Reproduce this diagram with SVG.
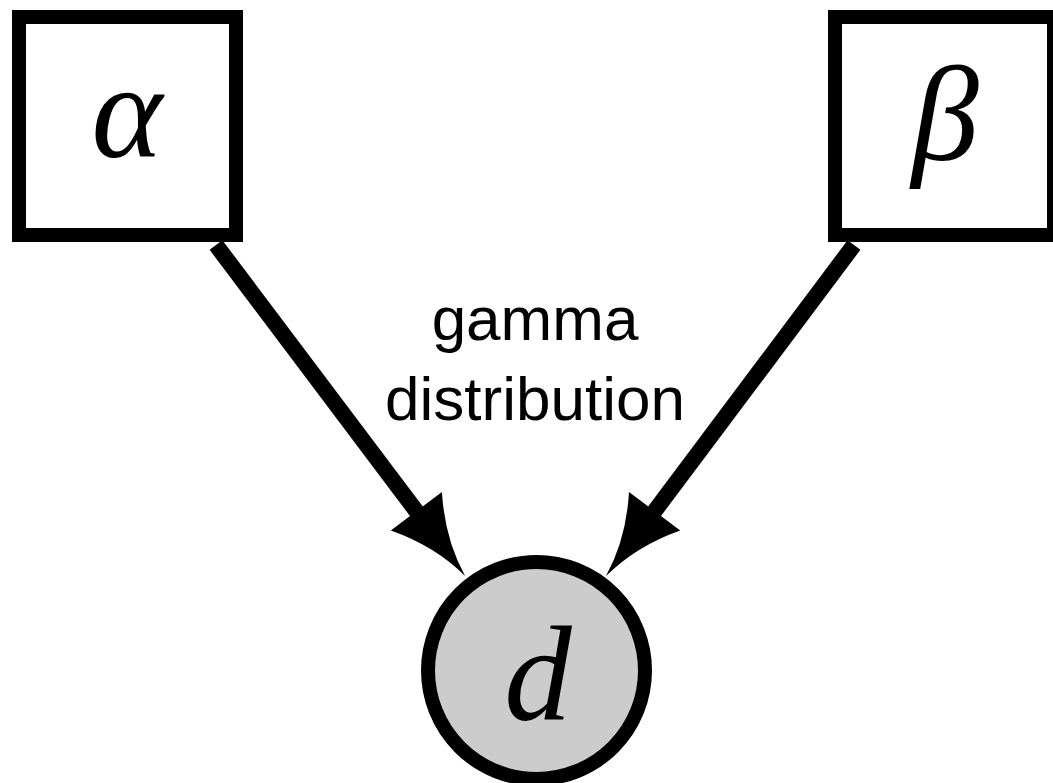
<svg xmlns="http://www.w3.org/2000/svg" width="1053" height="783" viewBox="0 0 1053 783">
<style>
.box{fill:#fff;stroke:#000;stroke-width:14}
.obs{fill:#cccccc;stroke:#000;stroke-width:14}
.edge{stroke:#000;stroke-width:16;fill:none;stroke-linecap:butt}
.math{font-family:"Liberation Serif","DejaVu Serif",serif;font-style:italic;font-size:135px;text-anchor:middle;fill:#000}
.lbl{font-family:"Liberation Sans",Arial,sans-serif;font-size:62px;text-anchor:middle;fill:#000}
</style>
<defs>
<marker id="ah" markerUnits="userSpaceOnUse" viewBox="-90 -40 100 80" markerWidth="100" markerHeight="80" refX="-60" refY="0" orient="auto" overflow="visible">
<path d="M0,0 Q-42,-6 -81,-32 L-81,32 Q-42,6 0,0 Z" fill="#000"/>
</marker>
</defs>
<g id="connectors">
<line class="edge" x1="216" y1="245" x2="429" y2="528" marker-end="url(#ah)"/>
<line class="edge" x1="854" y1="245" x2="642" y2="528" marker-end="url(#ah)"/>
<text class="lbl" x="535" y="340">gamma</text>
<text class="lbl" x="535" y="420">distribution</text>
</g>
<g id="alpha">
<rect class="box" x="19" y="17" width="217" height="218"/>
<text class="math" x="127" y="157">α</text>
</g>
<g id="beta">
<rect class="box" x="835" y="17" width="219" height="218"/>
<text class="math" x="945" y="160">β</text>
</g>
<g id="d">
<circle class="obs" cx="536.5" cy="670.5" r="108.5"/>
<text class="math" x="538" y="720">d</text>
</g>
</svg>
